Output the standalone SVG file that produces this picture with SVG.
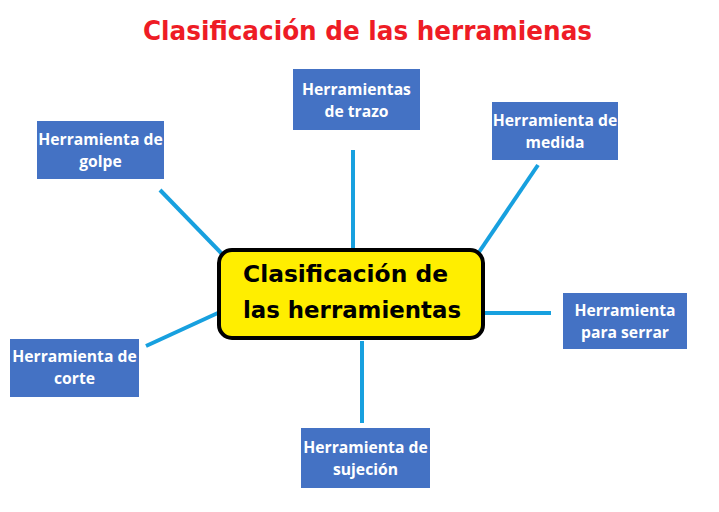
<svg xmlns="http://www.w3.org/2000/svg" width="719" height="512" viewBox="0 0 719 512">
<style>
.box{fill:#4472C4;}
.lbl{font-family:"Open Sans","Liberation Sans",sans-serif;font-weight:bold;font-size:15.7px;fill:#FFFFFF;text-anchor:middle;}
.con{stroke:#17A0DF;stroke-width:4;stroke-linecap:butt;fill:none;}
.title{font-family:"DejaVu Sans","Liberation Sans",sans-serif;font-weight:bold;font-size:26px;fill:#EE1C25;}
.ctext{font-family:"DejaVu Sans","Liberation Sans",sans-serif;font-weight:bold;font-size:23px;fill:#000000;}
</style>
<rect width="719" height="512" fill="#FFFFFF"/>
<text class="title" x="143" y="40" textLength="449" lengthAdjust="spacingAndGlyphs">Clasificación de las herramienas</text>
<g id="connectors">
<line class="con" x1="160" y1="190" x2="223" y2="255"/>
<line class="con" x1="353" y1="150" x2="353" y2="250"/>
<line class="con" x1="538" y1="165" x2="477" y2="255"/>
<line class="con" x1="483" y1="313" x2="551" y2="313"/>
<line class="con" x1="146" y1="346" x2="220" y2="312"/>
<line class="con" x1="362" y1="341" x2="362" y2="423"/>
</g>
<g id="center">
<rect x="219" y="250" width="264" height="88" rx="13" fill="#FFEE00" stroke="#000000" stroke-width="4"/>
<text class="ctext" x="243" y="282" textLength="205" lengthAdjust="spacingAndGlyphs">Clasificación de</text>
<text class="ctext" x="243" y="318" textLength="218" lengthAdjust="spacingAndGlyphs">las herramientas</text>
</g>
<g id="golpe">
<rect class="box" x="37" y="121" width="127" height="58"/>
<text class="lbl" x="100.5" y="145">Herramienta de</text>
<text class="lbl" x="100.5" y="167">golpe</text>
</g>
<g id="trazo">
<rect class="box" x="293" y="69" width="127" height="61"/>
<text class="lbl" x="356.5" y="95">Herramientas</text>
<text class="lbl" x="356.5" y="117">de trazo</text>
</g>
<g id="medida">
<rect class="box" x="492" y="102" width="126" height="58"/>
<text class="lbl" x="555" y="126">Herramienta de</text>
<text class="lbl" x="555" y="148">medida</text>
</g>
<g id="serrar">
<rect class="box" x="563" y="293" width="124" height="56"/>
<text class="lbl" x="625" y="316">Herramienta</text>
<text class="lbl" x="625" y="338">para serrar</text>
</g>
<g id="corte">
<rect class="box" x="10" y="339" width="129" height="58"/>
<text class="lbl" x="74.5" y="362">Herramienta de</text>
<text class="lbl" x="74.5" y="384">corte</text>
</g>
<g id="sujecion">
<rect class="box" x="301" y="428" width="129" height="60"/>
<text class="lbl" x="365.5" y="453">Herramienta de</text>
<text class="lbl" x="365.5" y="475">sujeción</text>
</g>
</svg>
